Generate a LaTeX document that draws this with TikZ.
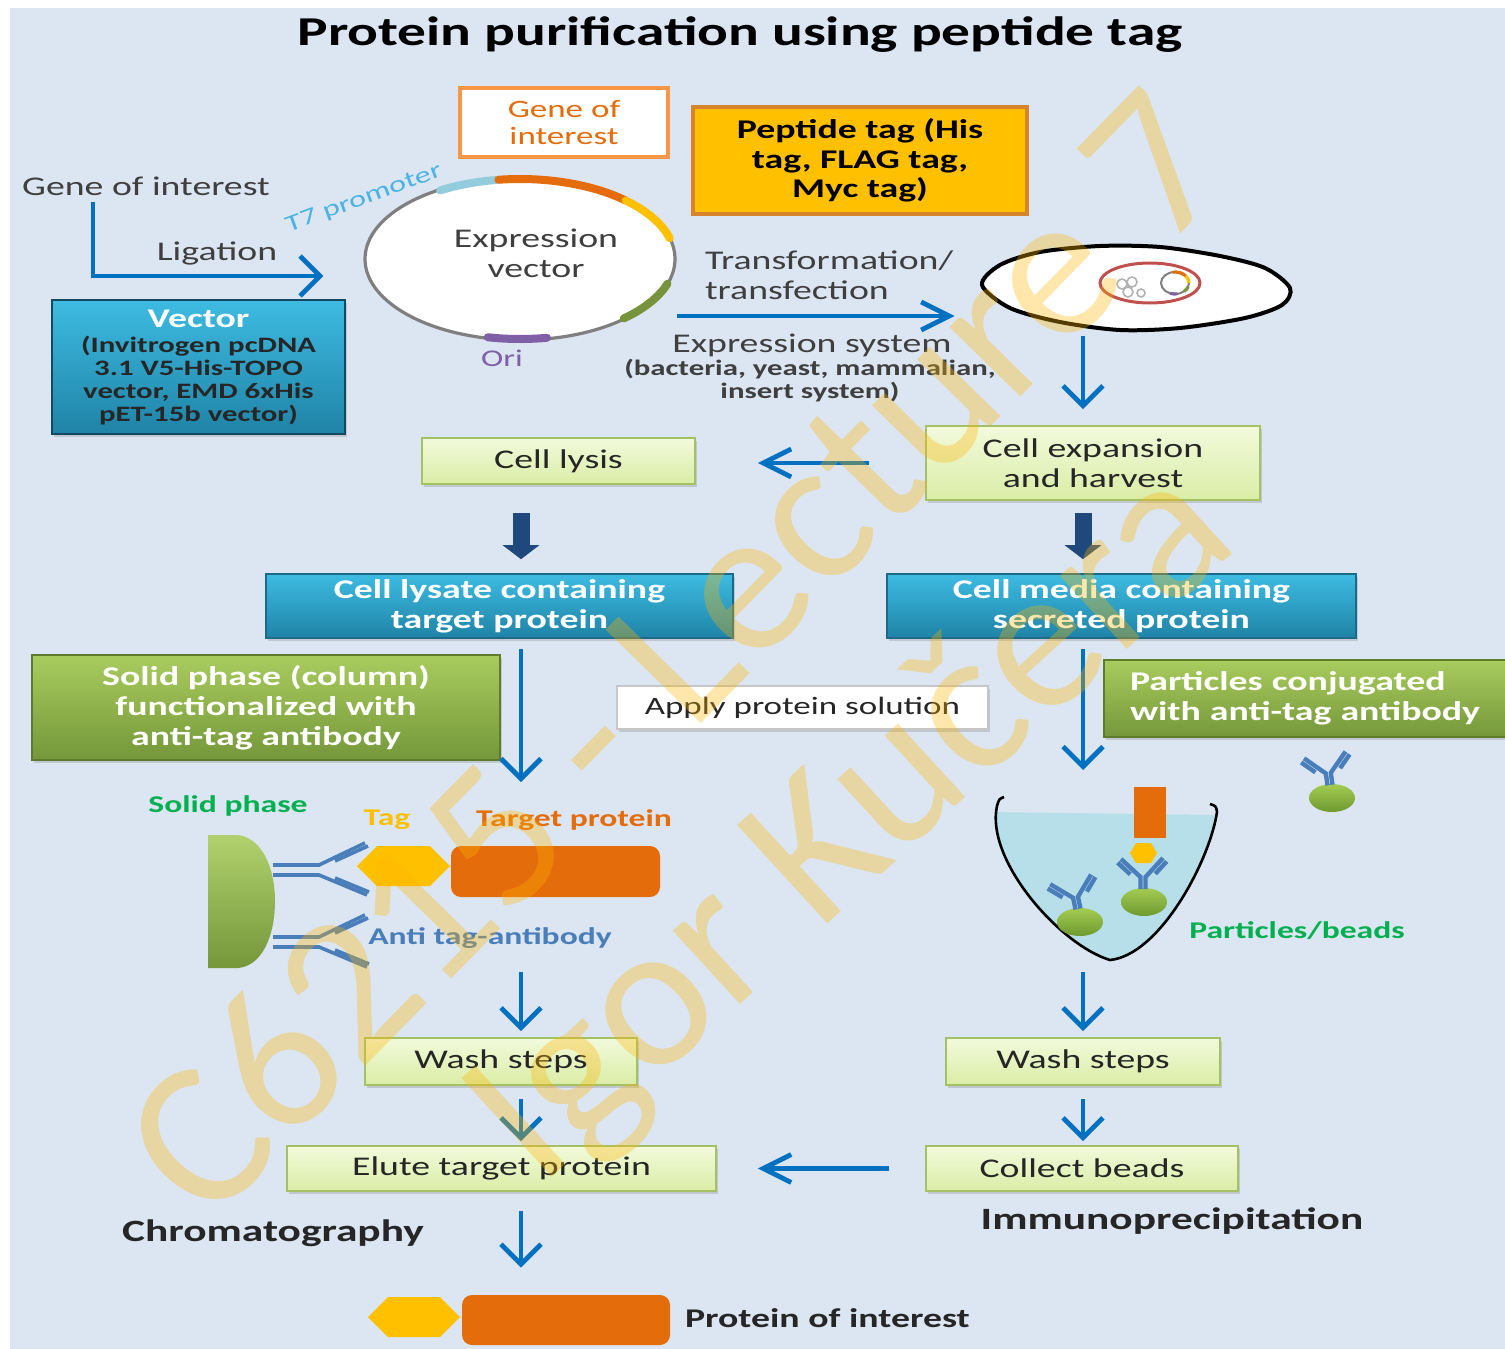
\documentclass[tikz,border=0pt]{standalone}
\usepackage{fontspec}
\setmainfont{Carlito}[FakeStretch=1.4]
\newfontfamily\wmfont{Carlito}
\usetikzlibrary{arrows.meta,shapes.geometric,shadows}

\definecolor{slide}{HTML}{DCE6F2}
\definecolor{ink}{HTML}{262626}
\definecolor{ink2}{HTML}{3F3F3F}
\definecolor{flowblue}{HTML}{0070C0}
\definecolor{navy}{HTML}{1F497D}
\definecolor{tealtop}{HTML}{3EBBE2}
\definecolor{tealbot}{HTML}{1F83A6}
\definecolor{tealedge}{HTML}{1A6A88}
\definecolor{greentop}{HTML}{A9CC5E}
\definecolor{greenbot}{HTML}{75973A}
\definecolor{greenedge}{HTML}{5F7B2E}
\definecolor{lighttop}{HTML}{F2FADC}
\definecolor{lightbot}{HTML}{DAEDA6}
\definecolor{lightedge}{HTML}{A4C163}
\definecolor{tagyellow}{HTML}{FFC000}
\definecolor{tagedge}{HTML}{D8842A}
\definecolor{geneor}{HTML}{E46C0A}
\definecolor{goiedge}{HTML}{F79646}
\definecolor{promo}{HTML}{93CDDD}
\definecolor{promotext}{HTML}{4BB3E3}
\definecolor{resist}{HTML}{77933C}
\definecolor{oripurple}{HTML}{7F5FA6}
\definecolor{ringgray}{HTML}{7F7F7F}
\definecolor{liquid}{HTML}{B7DFE9}
\definecolor{abblue}{HTML}{4A7EBB}
\definecolor{labgreen}{HTML}{00B050}
\definecolor{beadtop}{HTML}{A3CC52}
\definecolor{beadbot}{HTML}{6E9A2F}
\definecolor{nucred}{HTML}{C0504D}
\definecolor{wmgold}{HTML}{FFB400}

\newcommand{\boxfont}{\fontsize{13.5}{15}\selectfont}
\newcommand{\hostfont}{\fontsize{11}{11.5}\selectfont\bfseries}
\newcommand{\labfont}{\fontsize{12}{13}\selectfont\bfseries}
\newcommand{\stagefont}{\fontsize{15.5}{17}\selectfont\bfseries}

\tikzset{
  boxshadow/.style={drop shadow={opacity=.3, shadow xshift=1pt, shadow yshift=-1.3pt}},
  lightbox/.style={draw=lightedge, line width=0.8pt, top color=lighttop, bottom color=lightbot,
    text=ink, font=\boxfont, align=center, inner sep=0pt, boxshadow},
  tealbox/.style={draw=tealedge, line width=0.8pt, top color=tealtop, bottom color=tealbot,
    text=white, font=\boxfont\bfseries, align=center, inner sep=0pt, boxshadow},
  greenbox/.style={draw=greenedge, line width=0.8pt, top color=greentop, bottom color=greenbot,
    text=white, font=\boxfont\bfseries, align=center, inner sep=0pt, boxshadow},
  note/.style={text=ink2, font=\boxfont, align=center},
  flow/.style={draw=flowblue, line width=2.4pt, -{Straight Barb[length=10pt,width=20pt]}},
  sideflow/.style={draw=flowblue, line width=2.4pt, -{Straight Barb[length=14pt,width=14pt]}},
  bigdown/.style={draw=navy, line width=8.5pt, -{Triangle[length=7pt,width=18pt]}},
  abline/.style={draw=abblue, line width=1.8pt},
  antibody/.pic={
    \draw[abline] (0,-5) -- (46,-5) -- (92,-27);
    \draw[abline] (0,5) -- (46,5) -- (94,25);
    \draw[abline] (62,-9) -- (95,-24);
    \draw[abline] (62,8) -- (96,22);
  },
  minibody/.pic={
    \draw[abline, line width=2.2pt] (-2.5,0) -- (-2.5,-12) -- (-22,-30);
    \draw[abline, line width=2.2pt] (2.5,0) -- (2.5,-12) -- (20,-31);
    \draw[abline, line width=2.2pt] (-12.7,-14.6) -- (-25.4,-26.3);
    \draw[abline, line width=2.2pt] (12.3,-15.2) -- (23.7,-27.6);
  },
  bead/.style={top color=beadtop, bottom color=beadbot},
  wm/.style={text=wmgold, opacity=0.33, font=\wmfont\fontsize{104}{106}\selectfont},
}

\begin{document}
\begin{tikzpicture}[x=0.5pt,y=-0.5pt]
\useasboundingbox (0,0) rectangle (1505,1349);
\fill[white] (0,0) rectangle (1505,1349);
\fill[slide] (10,8) rectangle (1505,1349);

\node[font=\fontsize{20.5}{24}\selectfont\bfseries, text=black] (title) at (740,35) {Protein purification using peptide tag};

% cloning
\node[draw=goiedge, line width=1.6pt, fill=white, text=geneor, font=\fontsize{12.5}{13.5}\selectfont,
  align=center, minimum width=104pt, minimum height=34.5pt] (goi) at (564,122.5) {Gene of\\interest};
\node[draw=tagedge, line width=1.6pt, fill=tagyellow, text=black, font=\fontsize{13.5}{14.75}\selectfont\bfseries,
  align=center, minimum width=167pt, minimum height=53.5pt] (ptag) at (860,160.5) {Peptide tag (His\\tag, FLAG tag,\\Myc tag)};

\node[note] (genein) at (146,186) {Gene of interest};
\node[note] (lig) at (217,253) {Ligation};

\node[ellipse, draw=ringgray, line width=1.6pt, fill=white, minimum width=155pt, minimum height=81pt, inner sep=0pt] (plasmid) at (520,259) {};
\foreach \a/\b/\c in {121/99/promo, 98/47/geneor, 47/15/tagyellow, -18/-48/resist, -102/-80/oripurple}
  \draw[\c, line width=4pt, line cap=round] (plasmid.center) ++(-\a:155 and 80) arc[start angle=-\a, end angle=-\b, x radius=155, y radius=80];
\node[note] (vecname) at (536,253) {Expression\\vector};
\node[rotate=20, text=promotext, font=\fontsize{11.5}{12}\selectfont] (t7) at (364,199) {T7 promoter};
\node[text=oripurple, font=\fontsize{12}{13}\selectfont] (ori) at (502,358) {Ori};

\draw[flow] ([xshift=-26.5pt]genein.south) |- ([xshift=-20pt,yshift=-8.5pt]plasmid.west);

\node[draw=tealedge!70!black, line width=1.2pt, top color=tealtop, bottom color=tealbot, text=ink, font=\hostfont,
  align=center, inner sep=0pt, minimum width=146.5pt, minimum height=67pt, boxshadow] (vector) at (198.5,367)
  {\textcolor{white}{\fontsize{13.5}{15}\selectfont Vector}\\[1pt](Invitrogen pcDNA\\3.1 V5-His-TOPO\\vector, EMD 6xHis\\pET-15b vector)};

% expression host
\node[note, align=left, anchor=west] (transf) at (698,275) {Transformation/\\transfection};
\node[note] (exsys) at (812,345) {Expression system};
\node[note, font=\hostfont] (hosts) at (810,381) {(bacteria, yeast, mammalian,\\insert system)};

\node[minimum width=155pt, minimum height=46pt, inner sep=0pt] (cell) at (1135,290) {};
\filldraw[fill=white, draw=black, line width=2pt] plot[smooth cycle] coordinates {(982,285) (1000,265) (1040,252)
  (1100,246) (1160,247) (1220,256) (1265,268) (1290,288) (1282,305) (1245,318) (1180,328) (1120,330) (1060,322) (1010,308)};
\draw[nucred, line width=1.5pt] (1150,283) ellipse [x radius=50, y radius=20];
\draw[gray!60, line width=0.8pt] (1122,284) circle [radius=5] (1132,282) circle [radius=5] (1128,292) circle [radius=5] (1141,293) circle [radius=4];
\draw[ringgray, line width=1pt] (1175,283) ellipse [x radius=14, y radius=11];
\foreach \a/\b/\c in {100/40/geneor, 40/0/tagyellow, -20/-50/resist, -80/-110/oripurple}
  \draw[\c, line width=1.6pt] (1175,283) ++(-\a:14 and 11) arc[start angle=-\a, end angle=-\b, x radius=14, y radius=11];

\coordinate (tfstart) at (677,316);
\draw[sideflow, shorten >=12.5pt] (tfstart) -- (tfstart -| cell.west);

\node[lightbox, minimum width=167pt, minimum height=37pt] (harvest) at (1093,463) {Cell expansion\\and harvest};
\node[lightbox, minimum width=136.5pt, minimum height=23pt] (lysis) at (558.5,461) {Cell lysis};
\draw[flow, shorten >=8pt] ([xshift=-26pt]cell.south) -- ([xshift=-5pt]harvest.north);
\draw[sideflow, shorten <=28pt, shorten >=31pt] (harvest.west) -- (lysis.east |- harvest.west);

\node[tealbox, minimum width=233.5pt, minimum height=32pt] (lysate) at (499.5,606) {Cell lysate containing\\target protein};
\node[tealbox, minimum width=234.5pt, minimum height=32pt] (media) at (1121.5,606) {Cell media containing\\secreted protein};
\draw[bigdown, shorten <=14pt, shorten >=7pt] ([xshift=-18.75pt]lysis.south) -- ([xshift=10.75pt]lysate.north);
\draw[bigdown, shorten <=6pt, shorten >=7pt] ([xshift=-5pt]harvest.south) -- ([xshift=-19.25pt]media.north);

\node[greenbox, minimum width=234pt, minimum height=52.5pt] (column) at (266,707.5) {Solid phase (column)\\functionalized with\\anti-tag antibody};
\node[draw=gray!45, line width=1.2pt, fill=white, text=ink, font=\fontsize{12.5}{14}\selectfont, inner sep=0pt,
  minimum width=185.5pt, minimum height=21.5pt, boxshadow] (apply) at (802.5,707.5) {Apply protein solution};
\node[greenbox, align=left, text width=179.5pt, inner xsep=13pt, minimum height=38.5pt] (beadsbox) at (1309.5,698.5)
  {Particles conjugated\\with anti-tag antibody};

% chromatography column
\coordinate (colin) at (521,782);
\coordinate (colout) at (521,972);
\draw[flow, shorten <=5pt] ([xshift=10.75pt]lysate.south) -- (colin);
\node[font=\labfont, text=labgreen] (solidlbl) at (228,806) {Solid phase};
\node[font=\labfont, text=tagyellow] (taglbl) at (387,820) {Tag};
\node[font=\labfont, text=geneor] (targetlbl) at (574,820) {Target protein};
\shade[top color=greentop!90!white, bottom color=greenbot] (208,835) -- (238,835) .. controls (262,838) and (275,868) .. (275,901)
  .. controls (275,936) and (262,966) .. (238,968) -- (208,968) -- cycle;
\pic at (273,870) {antibody};
\pic at (273,942) {antibody};
\fill[tagyellow] (357,866) -- (377,846) -- (430,846) -- (450,866) -- (430,886) -- (377,886) -- cycle;
\fill[geneor, rounded corners=5pt] (451,846) rectangle (660,897);
\node[font=\labfont, text=abblue] (ablbl) at (490,938) {Anti tag-antibody};

% immunoprecipitation tube
\coordinate (tubein) at (1083,770);
\coordinate (tubeout) at (1083,972);
\draw[flow, shorten <=5pt] ([xshift=-19.25pt]media.south) -- (tubein);
\begin{scope}
  \clip (985,812) -- (1230,815) -- (1230,980) -- (985,980) -- cycle;
  \fill[liquid] (997,803) .. controls (985,860) and (1060,945) .. (1110,960) .. controls (1160,955) and (1210,860) .. (1217,808) -- cycle;
\end{scope}
\draw[black, line width=1.3pt] (1004,797) .. controls (999,799) .. (997,806) .. controls (985,860) and (1060,945) .. (1110,960)
  .. controls (1160,955) and (1210,860) .. (1217,812) .. controls (1216,806) .. (1210,804);
\fill[geneor] (1134,787) rectangle (1166,838);
\fill[tagyellow] (1130,853) -- (1136,843) -- (1151,843) -- (1157,853) -- (1151,863) -- (1136,863) -- cycle;
\shade[bead] (1080,922) ellipse [x radius=23, y radius=14];
\shade[bead] (1144,902) ellipse [x radius=23, y radius=14];
\shade[bead] (1332,798) ellipse [x radius=23, y radius=14];
\pic[rotate=12] at (1078,909) {minibody};
\pic at (1143,889) {minibody};
\pic[rotate=8] at (1330,785) {minibody};
\node[font=\labfont, text=labgreen] (beadlbl) at (1297,931) {Particles/beads};

% wash and elution
\node[lightbox, minimum width=136pt, minimum height=23.5pt] (washL) at (501,1061.5) {Wash steps};
\node[lightbox, minimum width=137pt, minimum height=23.5pt] (washR) at (1083,1061.5) {Wash steps};
\node[lightbox, minimum width=214.5pt, minimum height=22.5pt] (elute) at (501.5,1168.5) {Elute target protein};
\node[lightbox, minimum width=156pt, minimum height=22.5pt] (collect) at (1082,1168.5) {Collect beads};
\draw[flow, shorten >=3pt] (colout) -- ([xshift=10pt]washL.north);
\draw[flow, shorten >=3pt] (tubeout) -- (washR.north);
\draw[flow, shorten <=6.5pt, shorten >=2pt] ([xshift=10pt]washL.south) -- ([xshift=9.75pt]elute.north);
\draw[flow, shorten <=6.5pt, shorten >=2pt] (washR.south) -- (washR.south |- collect.north);
\draw[sideflow, shorten <=18pt, shorten >=20.5pt] (collect.west) -- (elute.east);

\node[font=\stagefont, text=ink] (chrom) at (273,1233) {Chromatography};
\node[font=\stagefont, text=ink] (ip) at (1172,1221) {Immunoprecipitation};

% purified product
\fill[tagyellow] (368,1317) -- (388,1297) -- (440,1297) -- (460,1317) -- (440,1337) -- (388,1337) -- cycle;
\node[fill=geneor, rounded corners=5pt, minimum width=104pt, minimum height=25pt, inner sep=0pt] (poi) at (566,1320) {};
\node[anchor=west, font=\fontsize{13.5}{15}\selectfont\bfseries, text=ink] (poilbl) at (678,1318) {Protein of interest};
\draw[flow, shorten <=9.5pt, shorten >=13.5pt] ([xshift=9.75pt]elute.south) -- ([xshift=-22.5pt]poi.north);

% watermark
\node[wm, rotate=45.6] (wm1) at (674,652) {C6215 - Lecture 7};
\node[wm, rotate=42.5] (wm2) at (855,828) {Igor Kučera};
\end{tikzpicture}
\end{document}
